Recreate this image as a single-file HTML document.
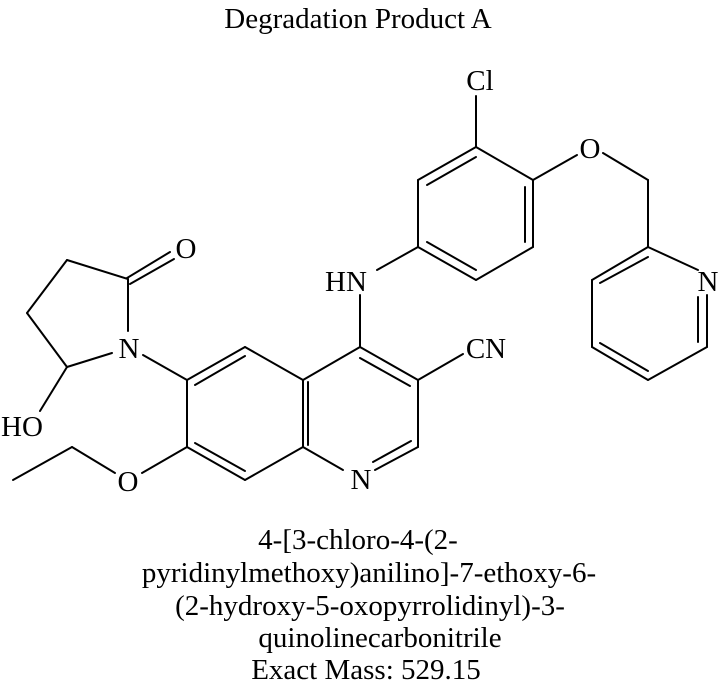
<!DOCTYPE html>
<html><head><meta charset="utf-8"><style>html,body{margin:0;padding:0;background:#fff}svg{display:block}</style></head>
<body>
<svg width="718" height="690" viewBox="0 0 718 690" xmlns="http://www.w3.org/2000/svg">
<g stroke="#000" stroke-width="2" fill="none" stroke-linecap="round">
<line x1="67" y1="260" x2="27" y2="313"/>
<line x1="27" y1="313" x2="67" y2="367"/>
<line x1="67" y1="260" x2="128" y2="279"/>
<line x1="128" y1="279" x2="128" y2="331"/>
<line x1="67" y1="367" x2="112" y2="353"/>
<line x1="127" y1="278" x2="170" y2="252"/>
<line x1="130" y1="284" x2="174" y2="259"/>
<line x1="67" y1="367" x2="40" y2="411"/>
<line x1="143" y1="355" x2="187" y2="380"/>
<line x1="187" y1="380" x2="245" y2="347"/>
<line x1="245" y1="347" x2="303" y2="380"/>
<line x1="303" y1="380" x2="303" y2="447"/>
<line x1="308" y1="382" x2="308" y2="445"/>
<line x1="303" y1="447" x2="245" y2="480"/>
<line x1="245" y1="480" x2="187" y2="447"/>
<line x1="187" y1="447" x2="187" y2="380"/>
<line x1="195" y1="385" x2="245" y2="356"/>
<line x1="195" y1="443" x2="245" y2="471"/>
<line x1="142" y1="473" x2="187" y2="447"/>
<line x1="115" y1="473" x2="72" y2="447"/>
<line x1="72" y1="447" x2="13" y2="480"/>
<line x1="303" y1="380" x2="360" y2="347"/>
<line x1="360" y1="347" x2="418" y2="380"/>
<line x1="360" y1="358" x2="410" y2="386"/>
<line x1="418" y1="380" x2="418" y2="447"/>
<line x1="418" y1="447" x2="375" y2="470"/>
<line x1="411" y1="441" x2="373" y2="462"/>
<line x1="303" y1="447" x2="343" y2="470"/>
<line x1="418" y1="380" x2="463" y2="354"/>
<line x1="360" y1="347" x2="360" y2="295"/>
<line x1="377" y1="270" x2="418" y2="247"/>
<line x1="418" y1="247" x2="418" y2="180"/>
<line x1="418" y1="180" x2="476" y2="147"/>
<line x1="476" y1="147" x2="533" y2="180"/>
<line x1="533" y1="180" x2="533" y2="247"/>
<line x1="533" y1="247" x2="476" y2="280"/>
<line x1="476" y1="280" x2="418" y2="247"/>
<line x1="427" y1="185" x2="476" y2="157"/>
<line x1="525" y1="187" x2="525" y2="242"/>
<line x1="427" y1="242" x2="476" y2="270"/>
<line x1="476" y1="147" x2="476" y2="96"/>
<line x1="533" y1="180" x2="577" y2="155"/>
<line x1="603" y1="153" x2="648" y2="180"/>
<line x1="648" y1="180" x2="648" y2="247"/>
<line x1="648" y1="247" x2="698" y2="270"/>
<line x1="648" y1="247" x2="592" y2="280"/>
<line x1="592" y1="280" x2="592" y2="347"/>
<line x1="592" y1="347" x2="648" y2="380"/>
<line x1="648" y1="380" x2="707" y2="347"/>
<line x1="707" y1="347" x2="707" y2="295"/>
<line x1="600" y1="283" x2="648" y2="257"/>
<line x1="600" y1="343" x2="648" y2="371"/>
<line x1="698" y1="297" x2="698" y2="342"/>
</g>
<g font-family="Liberation Serif, serif" font-size="29" fill="#000" text-anchor="middle">
<text x="186" y="258">O</text>
<text x="129" y="358">N</text>
<text x="22" y="436">HO</text>
<text x="128" y="491">O</text>
<text x="361" y="489">N</text>
<text x="486" y="358">CN</text>
<text x="346" y="291">HN</text>
<text x="480" y="90">Cl</text>
<text x="590" y="158">O</text>
<text x="708" y="291">N</text>
<text x="358" y="28">Degradation Product A</text>
<text x="358" y="549">4-[3-chloro-4-(2-</text>
<text x="369" y="582">pyridinylmethoxy)anilino]-7-ethoxy-6-</text>
<text x="370" y="615">(2-hydroxy-5-oxopyrrolidinyl)-3-</text>
<text x="380" y="647">quinolinecarbonitrile</text>
<text x="366" y="679">Exact Mass: 529.15</text>
</g>
</svg>
</body></html>
